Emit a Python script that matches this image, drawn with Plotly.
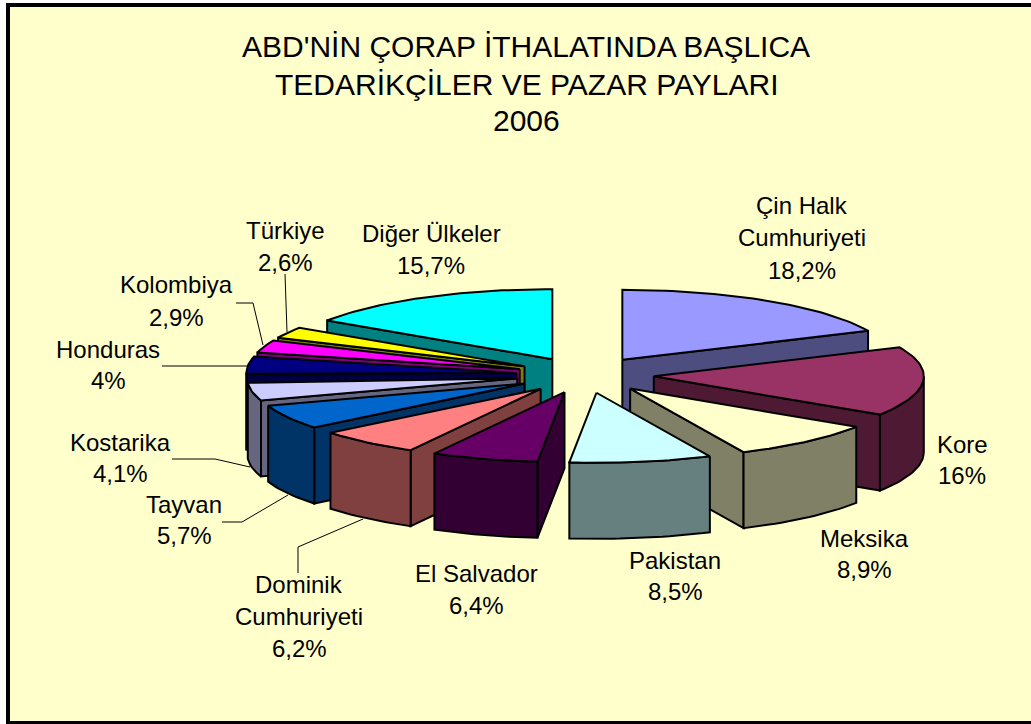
import math
import plotly.graph_objects as go

# ---- data ----
categories = ["Çin Halk Cumhuriyeti", "Kore", "Meksika", "Pakistan", "El Salvador",
              "Dominik Cumhuriyeti", "Tayvan", "Kostarika", "Honduras", "Kolombiya",
              "Türkiye", "Diğer Ülkeler"]
values = [18.2, 16, 8.9, 8.5, 6.4, 6.2, 5.7, 4.1, 4, 2.9, 2.6, 15.7]
value_labels = ["18,2%", "16%", "8,9%", "8,5%", "6,4%", "6,2%", "5,7%", "4,1%", "4%", "2,9%", "2,6%", "15,7%"]
label_lines = [["Çin Halk", "Cumhuriyeti"], ["Kore"], ["Meksika"], ["Pakistan"], ["El Salvador"],
               ["Dominik", "Cumhuriyeti"], ["Tayvan"], ["Kostarika"], ["Honduras"], ["Kolombiya"],
               ["Türkiye"], ["Diğer Ülkeler"]]
title_lines = ["ABD'NİN ÇORAP İTHALATINDA BAŞLICA", "TEDARİKÇİLER VE PAZAR PAYLARI", "2006"]

# ---- styles ----
top_colors = ["#9999FF", "#993366", "#FFFFCC", "#CCFFFF", "#660066", "#FF8080",
              "#0066CC", "#CCCCFF", "#000080", "#FF00FF", "#FFFF00", "#00FFFF"]
side_colors = ["#4D4D80", "#4D1933", "#808066", "#668080", "#330033", "#804040",
               "#003366", "#666680", "#000040", "#800080", "#808000", "#008080"]
# ---- layout: pie projection, label anchors ----
CX, CY, RX, RY, EX, EY, H = 585, 375, 270, 70, 69, 18, 76
label_x = [802, 962, 864, 675, 476, 299, 184, 120, 108, 176, 285, 431]
label_y = [205, 444, 538, 560, 573, 584, 504, 442, 349, 284, 230, 233]
label_step = [32.5, 31, 31, 31, 32, 32, 31, 31, 31, 33, 32, 32]
leaders = ["M236,303 L253,303 L263,345", "M285,274 L287,332", "M162,366 L247,366",
           "M172,459 L215,459 L250,467", "M222,522 L242,522 L288,495", "M298,573 L298,547 L363,519"]

# The labelled shares add up to 99.2 %; the unlabelled rest is the gap just before Honduras.
rest = 100 - sum(values)
rest_before = categories.index("Honduras")
fig = go.Figure()


def rim(theta, apex):
    t = math.radians(theta)
    return apex[0] + RX * math.sin(t), apex[1] - RY * math.cos(t)


def arc(a0, a1, apex):
    n = max(2, int(abs(a1 - a0) / 1.5) + 1)
    return [rim(a0 + (a1 - a0) * i / (n - 1), apex) for i in range(n)]


def poly(points, fill, name):
    fig.add_trace(go.Scatter(x=[p[0] for p in points] + [points[0][0]],
                             y=[p[1] for p in points] + [points[0][1]],
                             mode="lines", fill="toself", fillcolor=fill,
                             line=dict(color="black", width=2), name=name,
                             hoverinfo="name", showlegend=False))


slices = []
cum = 0.0
for i, v in enumerate(values):
    if i == rest_before:
        cum += rest
    a0 = cum * 3.6
    cum += v
    a1 = cum * 3.6
    slices.append((i, a0, a1, (a0 + a1) / 2))

for i, a0, a1, mid in sorted(slices, key=lambda s: -math.cos(math.radians(s[3]))):
    m = math.radians(mid)
    apex = (CX + EX * math.sin(m), CY - EY * math.cos(m))
    down = lambda p: (p[0], p[1] + H)
    name = categories[i]
    # radial walls that face the viewer
    if a1 < 180:
        p = rim(a1, apex)
        poly([apex, p, down(p), down(apex)], side_colors[i], name)
    if a0 > 180:
        p = rim(a0, apex)
        poly([apex, p, down(p), down(apex)], side_colors[i], name)
    # outer wall: only the near half of the rim shows
    w0, w1 = max(a0, 90), min(a1, 270)
    if w1 > w0:
        e = arc(w0, w1, apex)
        poly(e + [down(p) for p in reversed(e)], side_colors[i], name)
    poly([apex] + arc(a0, a1, apex), top_colors[i], name)

annotations = []
for line, y in zip(title_lines, [46, 84, 120]):
    annotations.append(dict(x=526, y=y, text=line, showarrow=False, xanchor="center", yanchor="middle",
                            font=dict(size=30)))
for lines, vl, x, y, step in zip(label_lines, value_labels, label_x, label_y, label_step):
    for k, line in enumerate(lines + [vl]):
        annotations.append(dict(x=x, y=y + k * step, text=line, showarrow=False,
                                xanchor="center", yanchor="middle", font=dict(size=24)))

shapes = [dict(type="rect", layer="below", x0=8, y0=5, x1=1045, y1=723,
               fillcolor="#FFFFCC", line=dict(color="black", width=4))]
shapes += [dict(type="path", path=p, line=dict(color="black", width=1), layer="above") for p in leaders]

fig.update_layout(width=1031, height=724, margin=dict(l=0, r=0, t=0, b=0), paper_bgcolor="white",
                  plot_bgcolor="rgba(0,0,0,0)", showlegend=False,
                  font=dict(family="Liberation Sans, Arial, sans-serif", color="black"),
                  xaxis=dict(range=[0, 1031], visible=False, fixedrange=True),
                  yaxis=dict(range=[724, 0], visible=False, fixedrange=True),
                  annotations=annotations, shapes=shapes)
fig.write_html("out.html", config=dict(displayModeBar=False),
               post_script="document.body.style.margin='0';document.body.style.overflow='hidden';")
